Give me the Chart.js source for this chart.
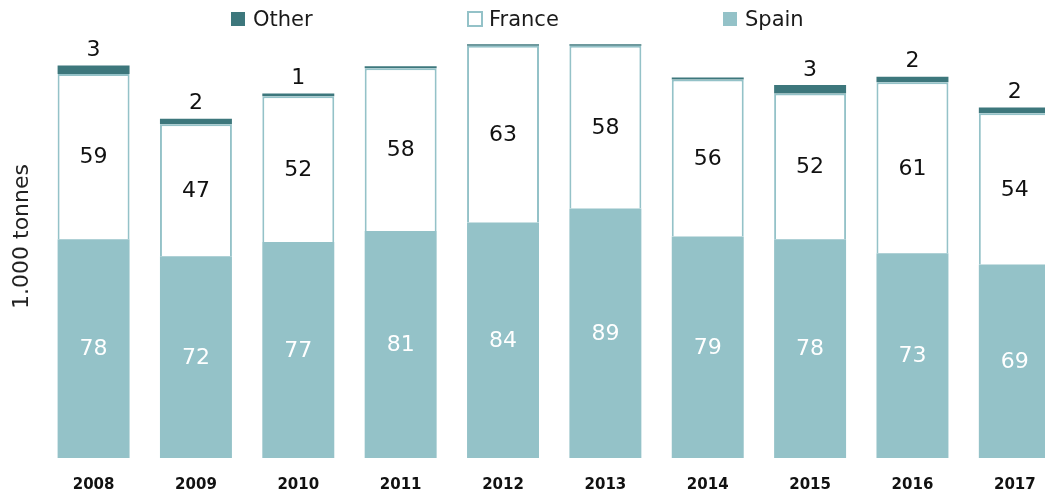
<!DOCTYPE html>
<html>
<head>
<meta charset="utf-8">
<script src="https://cdn.jsdelivr.net/npm/chart.js@4"></script>
<style>
  html, body { margin: 0; padding: 0; background: #fff; overflow: hidden; }
  #wrap { position: relative; width: 1045px; height: 491px; overflow: hidden; }
  #grafico { position: absolute; left: 0; top: 0; }
  .leyenda { position: absolute; top: 7px; display: flex; align-items: center;
             font-family: "DejaVu Sans", sans-serif; font-size: 21px; color: #1a1a1a; }
  .caja { width: 14px; height: 14px; margin-right: 8px; box-sizing: border-box; }
</style>
</head>
<body>
<div id="wrap">
  <canvas id="grafico" width="1070" height="512"></canvas>
  <div class="leyenda" style="left:231px"><span class="caja" style="background:#3d777c"></span>Other</div>
  <div class="leyenda" style="left:467px"><span class="caja" style="width:16px;height:16px;border:2px solid #94c2c8;margin-right:6px"></span>France</div>
  <div class="leyenda" style="left:723px"><span class="caja" style="background:#94c2c8"></span>Spain</div>
</div>
<script>
// Datos (miles de toneladas)
const anios = ['2008', '2009', '2010', '2011', '2012', '2013', '2014', '2015', '2016', '2017'];
const spain = [78, 72, 77, 81, 84, 89, 79, 78, 73, 69];
const france = [59, 47, 52, 58, 63, 58, 56, 52, 61, 54];
const other = [3, 2, 1, 0.7, 0.6, 0.6, 0.7, 3, 2, 2];

const colorOscuro = '#3d777c';
const colorClaro = '#94c2c8';

// Etiquetas con el valor de cada segmento
const etiquetas = {
    id: 'etiquetas',
    afterDatasetsDraw(chart) {
        const ctx = chart.ctx;
        ctx.save();
        ctx.font = '22px "DejaVu Sans", sans-serif';
        ctx.textAlign = 'center';
        ctx.textBaseline = 'middle';
        chart.data.datasets.forEach(function(ds, i) {
            const meta = chart.getDatasetMeta(i);
            meta.data.forEach(function(bar, j) {
                const valor = ds.data[j];
                if (ds.label === 'Other') {
                    if (valor < 1) return;
                    ctx.fillStyle = '#111';
                    ctx.fillText(Math.round(valor), bar.x, bar.y - 15);
                } else {
                    ctx.fillStyle = ds.label === 'Spain' ? '#fff' : '#111';
                    ctx.fillText(Math.round(valor), bar.x, (bar.y + bar.base) / 2 + 1);
                }
            });
        });
        ctx.restore();
    }
};

const ctx = document.getElementById('grafico').getContext('2d');
new Chart(ctx, {
    type: 'bar',
    data: {
        labels: anios,
        datasets: [
            {
                label: 'Spain',
                data: spain,
                backgroundColor: colorClaro,
                borderWidth: 0
            },
            {
                label: 'France',
                data: france,
                backgroundColor: '#fff',
                borderColor: colorClaro,
                borderWidth: 2
            },
            {
                label: 'Other',
                data: other,
                backgroundColor: colorOscuro,
                borderWidth: 0
            }
        ]
    },
    options: {
        responsive: false,
        animation: false,
        datasets: {
            bar: {
                categoryPercentage: 1,
                barPercentage: 0.703
            }
        },
        layout: {
            padding: { top: 15, right: 4, left: 0, bottom: 0 }
        },
        plugins: {
            legend: { display: false },
            tooltip: { enabled: false }
        },
        scales: {
            x: {
                stacked: true,
                grid: { display: false, drawTicks: false },
                border: { display: false },
                ticks: {
                    padding: 18,
                    color: '#111',
                    font: { family: '"DejaVu Sans", sans-serif', size: 15, weight: 'bold', lineHeight: 1.2 }
                }
            },
            y: {
                stacked: true,
                min: 0,
                max: 158,
                grid: { display: false, drawTicks: false },
                border: { display: false },
                ticks: { display: false },
                title: {
                    display: true,
                    text: '1.000 tonnes',
                    color: '#222',
                    padding: { top: 9, bottom: 7 },
                    font: { family: '"DejaVu Sans", sans-serif', size: 22, lineHeight: 1.2 }
                }
            }
        }
    },
    plugins: [etiquetas]
});
</script>
</body>
</html>
